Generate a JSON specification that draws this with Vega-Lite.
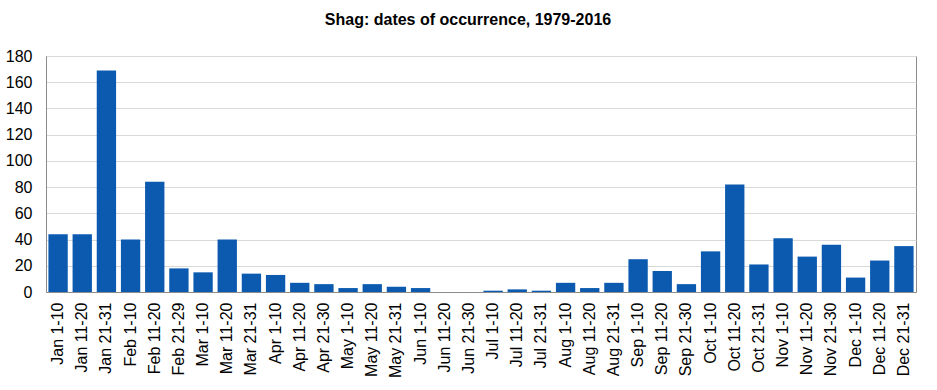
{
  "$schema": "https://vega.github.io/schema/vega-lite/v6.json",
  "width": 870,
  "height": 236,
  "autosize": {"type": "none"},
  "padding": {"left": 46, "top": 56, "right": 21, "bottom": 98},
  "background": "white",
  "title": {
    "text": "Shag: dates of occurrence, 1979-2016",
    "font": "Liberation Sans",
    "fontSize": 16,
    "fontWeight": "bold",
    "color": "black",
    "anchor": "middle",
    "dx": -13,
    "offset": 20
  },
  "data": {
    "values": [
      {"period": "Jan 1-10", "count": 44},
      {"period": "Jan 11-20", "count": 44},
      {"period": "Jan 21-31", "count": 169},
      {"period": "Feb 1-10", "count": 40},
      {"period": "Feb 11-20", "count": 84},
      {"period": "Feb 21-29", "count": 18},
      {"period": "Mar 1-10", "count": 15},
      {"period": "Mar 11-20", "count": 40},
      {"period": "Mar 21-31", "count": 14},
      {"period": "Apr 1-10", "count": 13},
      {"period": "Apr 11-20", "count": 7},
      {"period": "Apr 21-30", "count": 6},
      {"period": "May 1-10", "count": 3},
      {"period": "May 11-20", "count": 6},
      {"period": "May 21-31", "count": 4},
      {"period": "Jun 1-10", "count": 3},
      {"period": "Jun 11-20", "count": 0},
      {"period": "Jun 21-30", "count": 0},
      {"period": "Jul 1-10", "count": 1},
      {"period": "Jul 11-20", "count": 2},
      {"period": "Jul 21-31", "count": 1},
      {"period": "Aug 1-10", "count": 7},
      {"period": "Aug 11-20", "count": 3},
      {"period": "Aug 21-31", "count": 7},
      {"period": "Sep 1-10", "count": 25},
      {"period": "Sep 11-20", "count": 16},
      {"period": "Sep 21-30", "count": 6},
      {"period": "Oct 1-10", "count": 31},
      {"period": "Oct 11-20", "count": 82},
      {"period": "Oct 21-31", "count": 21},
      {"period": "Nov 1-10", "count": 41},
      {"period": "Nov 11-20", "count": 27},
      {"period": "Nov 21-30", "count": 36},
      {"period": "Dec 1-10", "count": 11},
      {"period": "Dec 11-20", "count": 24},
      {"period": "Dec 21-31", "count": 35}
    ]
  },
  "mark": {"type": "bar", "color": "#0B5AB0"},
  "encoding": {
    "x": {
      "field": "period",
      "type": "nominal",
      "sort": null,
      "scale": {"paddingInner": 0.2, "paddingOuter": 0.1},
      "axis": {
        "title": null,
        "labelAngle": 270,
        "labelFont": "Liberation Sans",
        "labelFontSize": 16,
        "labelColor": "black",
        "labelPadding": 10,
        "ticks": false,
        "tickSize": 0,
        "domainColor": "#8c8c8c",
        "grid": false
      }
    },
    "y": {
      "field": "count",
      "type": "quantitative",
      "scale": {"domain": [0, 180], "nice": false},
      "axis": {
        "title": null,
        "values": [0, 20, 40, 60, 80, 100, 120, 140, 160, 180],
        "labelFont": "Liberation Sans",
        "labelFontSize": 16,
        "labelColor": "black",
        "labelPadding": 14,
        "ticks": false,
        "tickSize": 0,
        "domainColor": "#8c8c8c",
        "gridColor": "#d9d9d9",
        "gridWidth": 1
      }
    }
  },
  "config": {
    "view": {"stroke": "#8c8c8c", "strokeWidth": 1}
  }
}
